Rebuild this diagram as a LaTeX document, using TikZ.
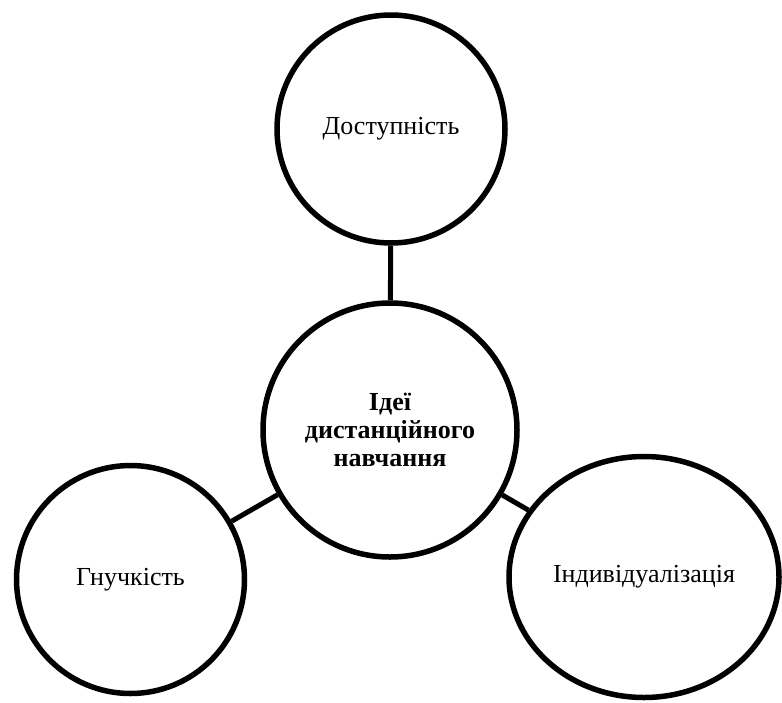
\documentclass[tikz,border=0pt]{standalone}
\usepackage{fontspec}
\setmainfont{Liberation Serif}[Script=Cyrillic]
\newfontfamily\tnr{Liberation Serif}[Script=Cyrillic]
\usetikzlibrary{shapes.geometric}
\begin{document}
\begin{tikzpicture}[x=1pt,y=-1pt,
  bubble/.style={draw=black, line width=5.5pt, fill=white, inner sep=0pt,
    font=\tnr\fontsize{26}{28}\selectfont, align=center},
  link/.style={draw=black, line width=5pt}]
\useasboundingbox (0,0) rectangle (782,702);
\node[bubble, circle, minimum size=228pt] (top) at (391,129) {Доступність};
\node[bubble, circle, minimum size=254pt, font=\tnr\fontsize{26}{28}\selectfont\bfseries] (mid) at (390,430) {Ідеї\\дистанційного\\навчання};
\node[bubble, circle, minimum size=228pt] (left) at (130.5,579.5) {Гнучкість};
\node[bubble, ellipse, minimum width=270pt, minimum height=241pt] (right) at (644,577) {Індивідуалізація};
\draw[link] (top) -- (mid);
\draw[link] (left) -- (mid);
\draw[link] (mid) -- (right);
\end{tikzpicture}
\end{document}
